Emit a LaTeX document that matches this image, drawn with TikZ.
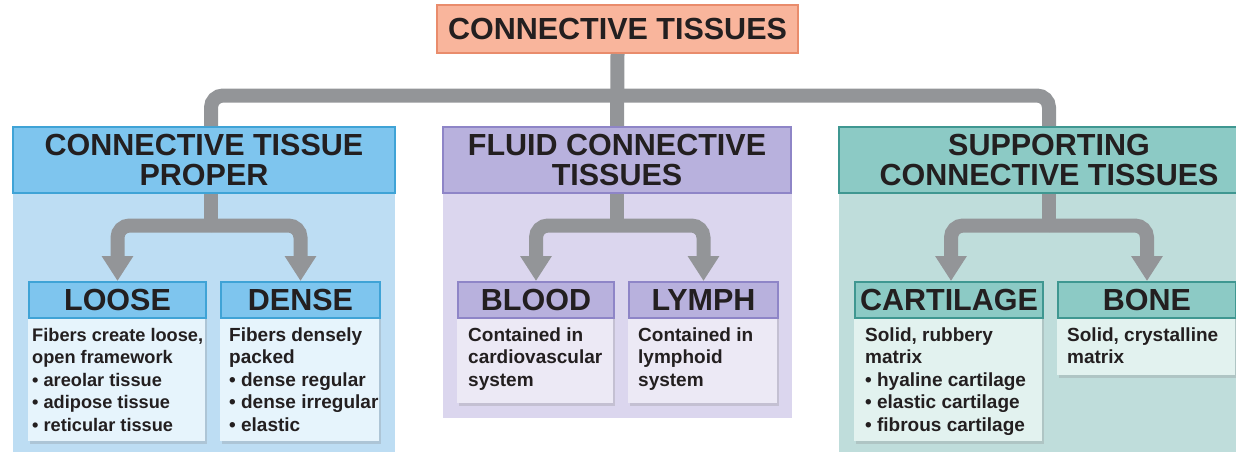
\documentclass[tikz,border=0pt]{standalone}
\usepackage{fontspec}
\setmainfont{Liberation Sans}
\usetikzlibrary{arrows.meta,shadows,calc}
\definecolor{txt}{HTML}{231F20}
\definecolor{connc}{HTML}{939598}
\definecolor{titlefill}{HTML}{F9B59C}
\definecolor{titleline}{HTML}{E98C6C}
\definecolor{bluehead}{HTML}{7EC5EE}
\definecolor{blueline}{HTML}{3FA3D6}
\definecolor{bluepanel}{HTML}{BDDDF3}
\definecolor{bluebody}{HTML}{E6F4FC}
\definecolor{purphead}{HTML}{B8B1DD}
\definecolor{purpline}{HTML}{8E85C7}
\definecolor{purppanel}{HTML}{DBD6EE}
\definecolor{purpbody}{HTML}{ECE9F5}
\definecolor{tealhead}{HTML}{8CCAC5}
\definecolor{tealline}{HTML}{3F9791}
\definecolor{tealpanel}{HTML}{BFDDDB}
\definecolor{tealbody}{HTML}{E2F2EF}
\begin{document}
\begin{tikzpicture}[x=1pt,y=-1pt,
  conn/.style={draw=connc, line width=14pt, rounded corners=12pt},
  arr/.style={conn, -{Triangle[width=30pt,length=25pt]}},
  hd/.style={font=\fontsize{30.5}{30}\selectfont\bfseries, text=txt, align=center, inner sep=0pt, line width=2pt},
  sub/.style={hd, minimum height=36pt, anchor=north west},
  card/.style={inner sep=0pt, anchor=north west, drop shadow={shadow xshift=1.5pt, shadow yshift=-2.5pt, opacity=0.25}},
  body/.style={font=\fontsize{19}{22.5}\selectfont\bfseries, text=txt, align=left, inner sep=0pt, anchor=north west},
]
\useasboundingbox (0,0) rectangle (1236,451);
\clip (0,0) rectangle (1236,451);

% panels
\fill[bluepanel] (13,127) rectangle (395,460);
\fill[purppanel] (443,127) rectangle (792,418);
\fill[tealpanel] (839,127) rectangle (1259,460);

% title and group headers
\node[hd, fill=titlefill, draw=titleline, minimum width=361pt, minimum height=48pt] (title) at (617.5,29) {CONNECTIVE TISSUES};
\node[hd, fill=bluehead, draw=blueline, minimum width=382pt, minimum height=66pt] (ctp) at (204,160) {CONNECTIVE TISSUE\\PROPER};
\node[hd, fill=purphead, draw=purpline, minimum width=348pt, minimum height=66pt] (fct) at (617,160) {FLUID CONNECTIVE\\TISSUES};
\node[hd, fill=tealhead, draw=tealline, minimum width=420pt, minimum height=66pt] (sct) at (1049,160) {SUPPORTING\\CONNECTIVE TISSUES};

% top connectors
\coordinate (barmid) at ($(title.south)+(0,41.5)$);
\coordinate (ctpin) at ($(ctp.north)+(7,0)$);
\draw[conn] (title.south) -- (fct.north);
\draw[conn] (ctpin) |- (barmid) -| (sct.north);

% cards
\node[card, fill=bluebody, minimum width=177pt, minimum height=160pt] (loosecard) at (28,281) {};
\node[card, fill=bluebody, minimum width=159pt, minimum height=160pt] (densecard) at (220,281) {};
\node[card, fill=purpbody, minimum width=156pt, minimum height=122pt] (bloodcard) at (457,281) {};
\node[card, fill=purpbody, minimum width=149pt, minimum height=122pt] (lymphcard) at (628,281) {};
\node[card, fill=tealbody, minimum width=188pt, minimum height=160pt] (cartcard) at (854,281) {};
\node[card, fill=tealbody, minimum width=178pt, minimum height=94pt] (bonecard) at (1057,281) {};

\node[sub, fill=bluehead, draw=blueline, minimum width=177pt] (loose) at (28,281) {LOOSE};
\node[sub, fill=bluehead, draw=blueline, minimum width=159pt] (dense) at (220,281) {DENSE};
\node[sub, fill=purphead, draw=purpline, minimum width=156pt] (blood) at (457,281) {BLOOD};
\node[sub, fill=purphead, draw=purpline, minimum width=149pt] (lymph) at (628,281) {LYMPH};
\node[sub, fill=tealhead, draw=tealline, minimum width=188pt] (cart) at (854,281) {CARTILAGE};
\node[sub, fill=tealhead, draw=tealline, minimum width=178pt] (bone) at (1057,281) {BONE};

% branch connectors
\coordinate (ctpout) at ($(ctp.south)+(7,0)$);
\coordinate (ctpsplit) at ($(ctpout)+(0,31.5)$);
\draw[conn] (ctpout) -- (ctpsplit);
\draw[arr] (ctpsplit) -| (loose.north);
\draw[arr] (ctpsplit) -| (dense.north);

\coordinate (fctsplit) at ($(fct.south)+(0,31.5)$);
\draw[conn] (fct.south) -- (fctsplit);
\draw[arr] (fctsplit) -| (blood.north);
\draw[arr] (fctsplit) -| (lymph.north);

\coordinate (sctsplit) at ($(sct.south)+(0,31.5)$);
\coordinate (cartin) at ($(cart.north)+(2,0)$);
\draw[conn] (sct.south) -- (sctsplit);
\draw[arr] (sctsplit) -| (cartin);
\draw[arr] (sctsplit) -| (bone.north);

% body texts
\node[body, font=\fontsize{18.2}{22.5}\selectfont\bfseries] (loosetxt) at (32,325.25) {\strut Fibers create loose,\\open framework\\• areolar tissue\\• adipose tissue\\• reticular tissue};
\node[body] (densetxt) at (229,325.25) {\strut Fibers densely\\packed\\• dense regular\\• dense irregular\\• elastic};
\node[body] (bloodtxt) at (468,325.25) {\strut Contained in\\cardiovascular\\system};
\node[body] (lymphtxt) at (638,325.25) {\strut Contained in\\lymphoid\\system};
\node[body] (carttxt) at (865,325.25) {\strut Solid, rubbery\\matrix\\• hyaline cartilage\\• elastic cartilage\\• fibrous cartilage};
\node[body] (bonetxt) at (1067,325.25) {\strut Solid, crystalline\\matrix};
\end{tikzpicture}
\end{document}
